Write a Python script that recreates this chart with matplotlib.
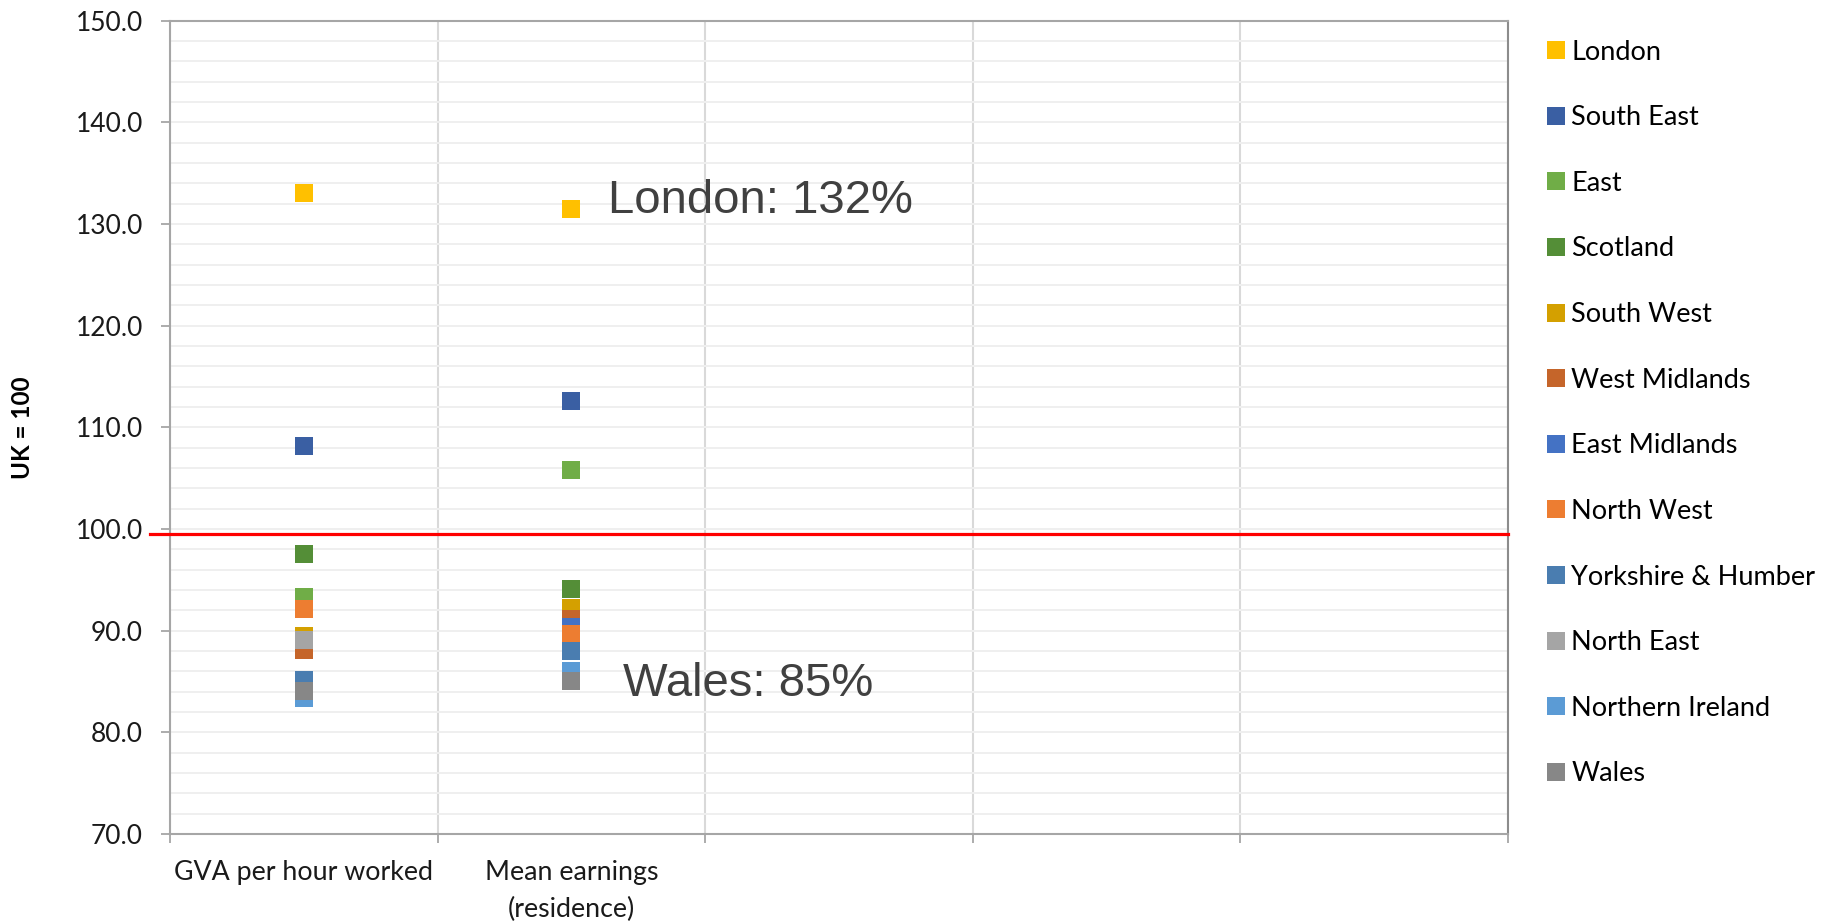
import matplotlib.pyplot as plt
import numpy as np
from matplotlib.ticker import FormatStrFormatter

# данные (UK = 100)
regions = ['London', 'South East', 'East', 'Scotland', 'South West', 'West Midlands',
           'East Midlands', 'North West', 'Yorkshire & Humber', 'North East',
           'Northern Ireland', 'Wales']
colors = ['#FFC000', '#3A5FA3', '#70AD47', '#548E37', '#D4A000', '#C5652A',
          '#4472C4', '#ED7D31', '#4A7DB0', '#A5A5A5', '#5B9BD5', '#878787']
gva_per_hour = [133.0, 108.2, 93.3, 97.5, 89.5, 88.1, 84.7, 92.1, 85.1, 89.1, 83.4, 84.1]
mean_earnings = [131.5, 112.6, 105.8, 94.1, 92.2, 91.1, 90.35, 89.7, 88.0, 85.5, 86.0, 85.0]
categories = ['GVA per hour worked', 'Mean earnings\n(residence)']
n_slots = 5
uk_line = 99.5

plt.rcParams['font.family'] = ['Lato', 'DejaVu Sans']

fig = plt.figure(figsize=(18.29, 9.23), dpi=100)
ax = fig.add_axes([170/1829, 1 - 834/923, 1338/1829, (834 - 20.6)/923])

xpos = np.arange(len(categories)) + 0.5
for i, name in enumerate(regions):
    ax.plot(xpos, [gva_per_hour[i], mean_earnings[i]], 's', color=colors[i],
            markersize=12.3, markeredgewidth=0, label=name, zorder=3)

# линия UK = 100
ax.plot([-0.015, 1.0], [uk_line, uk_line], color='#FF0000', lw=2.3,
        transform=ax.get_yaxis_transform(), clip_on=False, zorder=4)

ax.set_xlim(0, n_slots)
ax.set_ylim(70, 150)
ax.set_yticks(np.arange(70, 151, 10))
ax.set_yticks(np.arange(70, 151, 2), minor=True)
ax.yaxis.set_major_formatter(FormatStrFormatter('%.1f'))
ax.set_xticks(np.arange(0, n_slots + 1))
ax.set_xticklabels([])
ax.set_xticks(xpos, minor=True)
ax.set_xticklabels(categories, minor=True, linespacing=1.55)

ax.tick_params(axis='y', which='major', length=6.5, width=1.3, color='#A6A6A6',
               labelsize=19, pad=13, labelcolor='#1a1a1a')
ax.tick_params(axis='y', which='minor', length=0)
ax.tick_params(axis='x', which='major', length=6.5, width=1.3, color='#A6A6A6')
ax.tick_params(axis='x', which='minor', length=0, labelsize=19.3, pad=19,
               labelcolor='#1a1a1a')

ax.grid(axis='y', which='both', color='#EFEFEF', lw=1.4, zorder=0)
ax.grid(axis='x', which='major', color='#D9D9D9', lw=1.5, zorder=0)
ax.set_axisbelow(True)
for s in ax.spines.values():
    s.set_color('#A6A6A6')
    s.set_linewidth(1.5)
ax.spines['right'].set_color('#8C8C8C')

ax.set_ylabel('UK = 100', fontsize=17.5, fontweight='bold', labelpad=30)

ax.text(1.636, 131.1, 'London: 132%', fontsize=34, color='#404040',
        family=['Liberation Sans'], va='baseline', ha='left')
ax.text(1.693, 83.55, 'Wales: 85%', fontsize=34, color='#404040',
        family=['Liberation Sans'], va='baseline', ha='left')

ax.legend(loc='upper left', bbox_to_anchor=(1.018, 0.99), frameon=False,
          fontsize=19.5, labelspacing=1.5, handletextpad=0.05, numpoints=1,
          handlelength=1.0, borderaxespad=0)

fig.savefig('out.png', dpi=100)
